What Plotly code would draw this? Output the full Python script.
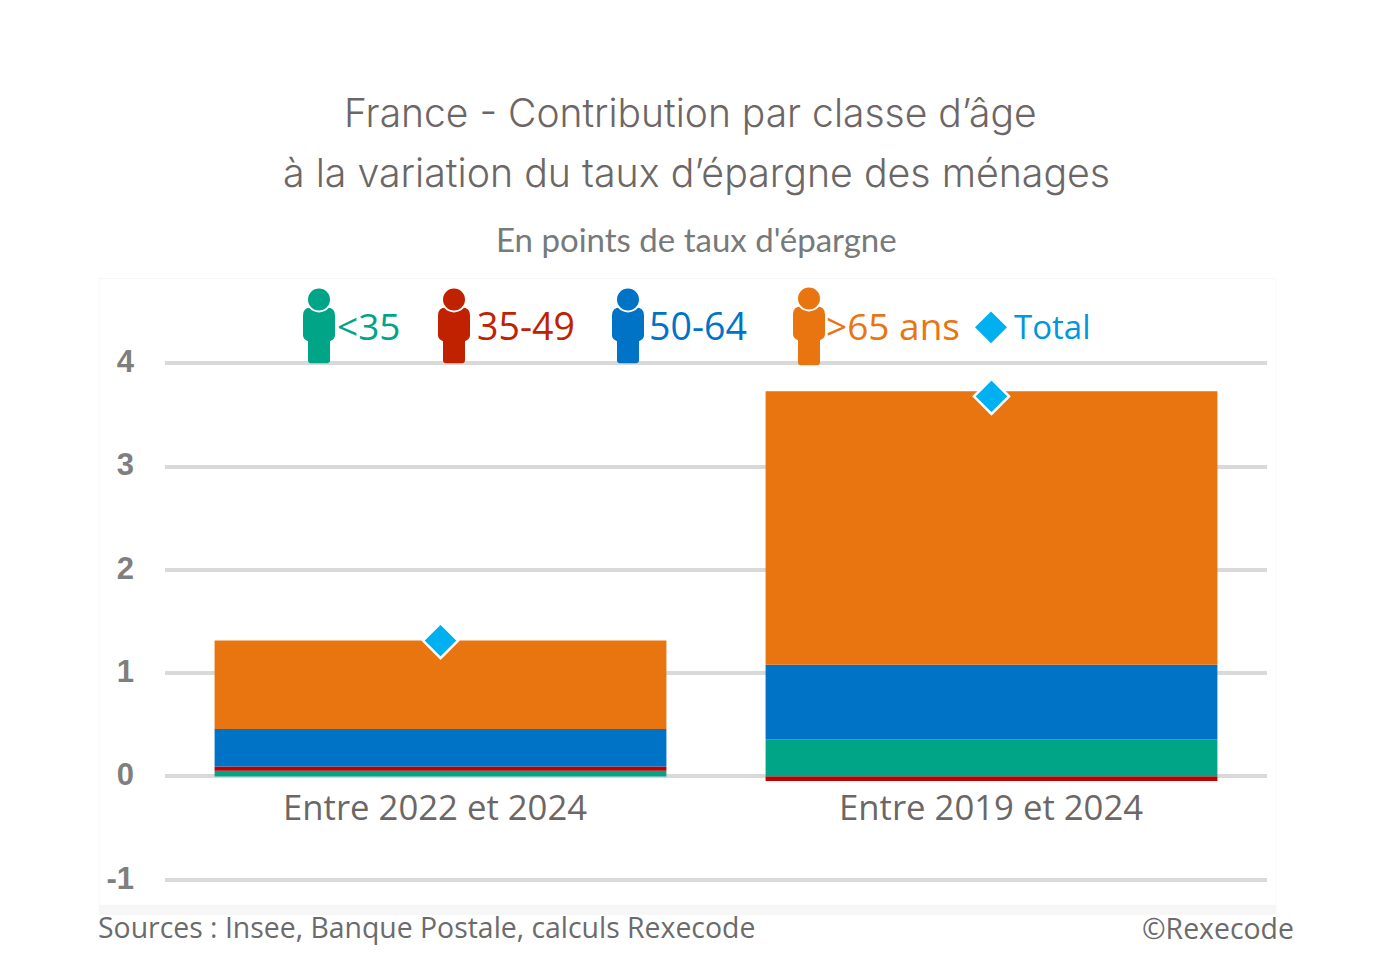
import plotly.graph_objects as go

categories = ["Entre 2022 et 2024", "Entre 2019 et 2024"]
under_35 = [0.055, 0.36]
from_35_49 = [0.04, -0.045]
from_50_64 = [0.365, 0.72]
over_65 = [0.855, 2.65]
total = [1.315, 3.68]
y_ticks = [-1, 0, 1, 2, 3, 4]
y_tick_labels = ["-1", "0", "1", "2", "3", "4"]

GREEN, RED, BAR_RED, BLUE, ORANGE, CYAN = "#00A587", "#C02200", "#BE0000", "#0173C7", "#E97511", "#00B0F0"
W, H = 1390, 966
UNIT = 103.4
PAD = 0.1
L, R, T, B = 165, 1267, 363 - PAD * UNIT, 880 + PAD * UNIT


def px(x):
    return (x - L) / (R - L)


def py(y):
    return 1 - (y - T) / (B - T)


def note(text, x, y, size, color, family, anchor="left", weight=None):
    font = dict(size=size, color=color, family=family)
    if weight:
        font["weight"] = weight
    return dict(text=text, x=px(x), y=py(y), xref="paper", yref="paper", showarrow=False,
                xanchor=anchor, yanchor="middle", font=font)


def person(cx, top, bottom, color):
    head = 12
    hy = top + head - 1
    st = top + 19
    legs = st + 32
    sx = lambda v: f"{px(cx + v):.5f}"
    sy = lambda v: f"{py(v):.5f}"
    body = (f"M {sx(-16)} {sy(st + 8)} Q {sx(-16)} {sy(st)} {sx(-8)} {sy(st)} L {sx(8)} {sy(st)} "
            f"Q {sx(16)} {sy(st)} {sx(16)} {sy(st + 8)} L {sx(16)} {sy(legs - 4)} Q {sx(16)} {sy(legs)} {sx(11)} {sy(legs + 2)} "
            f"L {sx(11)} {sy(bottom - 3)} Q {sx(11)} {sy(bottom)} {sx(8)} {sy(bottom)} L {sx(-8)} {sy(bottom)} "
            f"Q {sx(-11)} {sy(bottom)} {sx(-11)} {sy(bottom - 3)} L {sx(-11)} {sy(legs + 2)} Q {sx(-16)} {sy(legs)} {sx(-16)} {sy(legs - 4)} Z")
    return [
        dict(type="path", xref="paper", yref="paper", path=body, fillcolor=color, line=dict(width=0), layer="above"),
        dict(type="circle", xref="paper", yref="paper", x0=px(cx - head), x1=px(cx + head), y0=py(hy + head),
             y1=py(hy - head), fillcolor=color, line=dict(width=2, color="white"), layer="above"),
    ]


fig = go.Figure()
for name, vals, color in [("<35", under_35, GREEN), ("35-49", from_35_49, BAR_RED),
                          ("50-64", from_50_64, BLUE), (">65 ans", over_65, ORANGE)]:
    fig.add_bar(x=categories, y=vals, name=name, marker=dict(color=color, line=dict(width=0)))
fig.add_scatter(x=categories, y=total, name="Total", mode="markers",
                marker=dict(symbol="diamond", size=27, color=CYAN, line=dict(color="white", width=2.5)))

shapes = [
    dict(type="rect", xref="paper", yref="paper", x0=px(99), x1=px(1276), y0=py(915), y1=py(278),
         line=dict(color="#F8F8F8", width=1), fillcolor="#FFFFFF", layer="below"),
    dict(type="rect", xref="paper", yref="paper", x0=px(99), x1=px(1276), y0=py(915), y1=py(905),
         line=dict(width=0), fillcolor="#F6F6F6", layer="below"),
    dict(type="path", xref="paper", yref="paper",
         path=f"M {px(975)} {py(327)} L {px(991)} {py(311)} L {px(1007)} {py(327)} L {px(991)} {py(343)} Z",
         fillcolor=CYAN, line=dict(width=0), layer="above"),
]
shapes += person(319, 288, 363, GREEN) + person(454, 288, 363, RED) + person(628, 288, 363, BLUE) + person(809, 287, 365, ORANGE)

TITLE = "Inter"
SUB = "Lato"
LABEL = "Open Sans"
annotations = [
    note("France - Contribution par classe d’âge", 690, 112, 39, "#6C6766", TITLE, "center", 300),
    note("à la variation du taux d’épargne des ménages", 696, 172, 39.3, "#6C6766", TITLE, "center", 300),
    note("En points de taux d'épargne", 696, 239, 33, "#767A7A", SUB, "center"),
    note("&lt;35", 335, 325, 37, GREEN, LABEL),
    note("35-49", 475, 325, 37.5, RED, LABEL),
    note("50-64", 647, 325, 37.5, BLUE, LABEL),
    note("&gt;65 ans", 824, 325, 37, ORANGE, LABEL),
    note("Total", 1012, 326, 33, "#0098DC", LABEL),
    note("Sources : Insee, Banque Postale, calculs Rexecode", 96, 927, 28.4, "#6B6B6B", LABEL),
    note("©Rexecode", 1140, 928, 28.4, "#6B6B6B", LABEL),
]
for cat, xs in zip(categories, [-6, -1]):
    annotations.append(dict(text=cat, x=cat, y=-0.29, xref="x", yref="y", xshift=xs, showarrow=False,
                            xanchor="center", yanchor="middle", font=dict(size=34.7, color="#6C6766", family=LABEL)))

fig.update_layout(
    width=W, height=H, autosize=False, barmode="relative", bargap=0.18, showlegend=False,
    margin=dict(l=L, r=W - R, t=T, b=H - B), paper_bgcolor="white", plot_bgcolor="rgba(0,0,0,0)",
    shapes=shapes, annotations=annotations,
    xaxis=dict(showticklabels=False, showgrid=False, zeroline=False, showline=False, ticks=""),
    yaxis=dict(range=[-1 - PAD, 4 + PAD], tickvals=y_ticks, ticktext=y_tick_labels, showgrid=True,
               gridcolor="#D9D9D9", gridwidth=3.5,
               zeroline=True, zerolinecolor="#D9D9D9", zerolinewidth=3.5, showline=False, ticks="",
               ticklabelstandoff=30, ticklabelshift=-2,
               tickfont=dict(size=31, color="#7F7F7F", family="Liberation Sans", weight="bold")),
)
for tr in fig.data:
    tr.cliponaxis = False
fig.write_html("out.html", post_script="document.body.style.margin='0';", config={"displayModeBar": False})
